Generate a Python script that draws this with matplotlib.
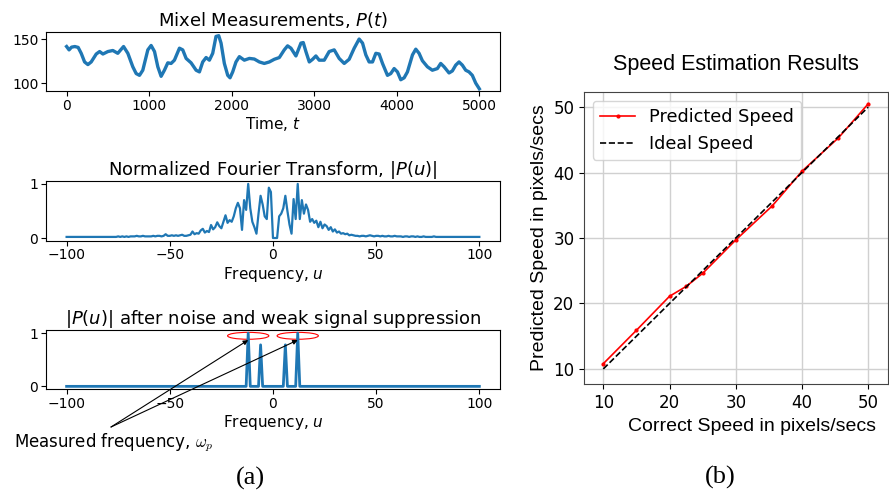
import matplotlib.pyplot as plt
from matplotlib.patches import Ellipse

time_t = [0, 30, 60, 100, 140, 177, 218, 258, 298, 359, 400, 440, 500, 560, 620, 690,
          742, 802, 843, 883, 923, 984, 1024, 1065, 1105, 1145, 1185, 1226, 1266, 1306,
          1367, 1407, 1448, 1508, 1569, 1609, 1649, 1690, 1730, 1770, 1810, 1843, 1871,
          1911, 1952, 1980, 2012, 2052, 2093, 2153, 2214, 2274, 2335, 2395, 2456, 2516,
          2577, 2637, 2677, 2718, 2778, 2839, 2867, 2899, 2940, 2980, 3020, 3060, 3121,
          3181, 3242, 3302, 3363, 3423, 3484, 3544, 3585, 3625, 3665, 3706, 3746, 3786,
          3827, 3887, 3927, 3968, 4008, 4048, 4089, 4129, 4190, 4230, 4270, 4310, 4371,
          4431, 4492, 4532, 4573, 4633, 4673, 4714, 4754, 4794, 4835, 4875, 4915, 4956, 5000]
mixel_p = [141.5, 137.7, 140.8, 141.5, 140.5, 133.8, 124, 121, 124, 133, 135.8, 133, 135.8,
           137, 133.8, 141.5, 133.8, 118.5, 110.8, 108.8, 114.6, 137.7, 142.7, 135.8, 118.5,
           107.7, 114.6, 123, 122.3, 126, 139.6, 137.7, 128, 123, 114.6, 112.7, 124, 129,
           126, 133.8, 153, 153.8, 145.4, 122.3, 108.8, 106, 112.7, 124, 130, 126, 128,
           127.3, 124, 122.3, 124, 127, 129, 137.7, 142.3, 139.6, 130.8, 145.4, 146, 135.8,
           124, 127, 130.8, 126, 126, 135.8, 137.7, 128, 122.3, 127, 139.6, 150, 145.4, 132,
           124, 124, 133.8, 133, 122.3, 108.8, 110.8, 116.5, 112.7, 103.8, 106, 112.7, 132,
           138.5, 133.8, 125.4, 118.5, 114.6, 116.5, 122.3, 118.5, 111.5, 113.8, 120.4, 124,
           120.4, 114.6, 112.7, 108.8, 100, 93.5]

# normalized Fourier transform |P(u)| for u = -100 .. 100
freq_u = list(range(-100, 101))
fourier_left_tail = [0.02, 0.02, 0.02, 0.02, 0.02, 0.02, 0.02, 0.02, 0.02, 0.02,
                     0.02, 0.02, 0.02, 0.02, 0.02, 0.02, 0.02, 0.02, 0.02, 0.02,
                     0.02, 0.02, 0.02, 0.02, 0.02, 0.03, 0.02, 0.03, 0.02, 0.03,
                     0.02, 0.03, 0.03, 0.03, 0.04, 0.03, 0.03, 0.04, 0.03, 0.03,
                     0.03, 0.03, 0.04, 0.03, 0.04, 0.04, 0.03, 0.04, 0.07, 0.04,
                     0.04, 0.05, 0.04, 0.05, 0.04, 0.05, 0.06, 0.04, 0.04, 0.05]
fourier_center = [0.06, 0.12, 0.07, 0.09, 0.08, 0.14, 0.17, 0.10, 0.13, 0.11,
                  0.24, 0.16, 0.20, 0.29, 0.22, 0.18, 0.30, 0.42, 0.28, 0.33,
                  0.30, 0.40, 0.55, 0.65, 0.55, 0.15, 0.70, 0.52, 1.00, 0.55,
                  0.30, 0.20, 0.08, 0.45, 0.78, 0.62, 0.40, 0.35, 0.93, 0.85,
                  0.00, 0.00, 0.00, 0.40, 0.45, 0.55, 0.78, 0.50, 0.25, 0.08,
                  0.72, 0.35, 1.00, 0.35, 0.70, 0.45, 0.62, 0.52, 0.30, 0.35,
                  0.28, 0.32, 0.20, 0.30, 0.18, 0.25, 0.22, 0.15, 0.20, 0.12,
                  0.16, 0.10, 0.12, 0.08, 0.09, 0.07, 0.08, 0.05, 0.06, 0.05, 0.04]
fourier_right_tail = [0.04, 0.03, 0.04, 0.04, 0.03, 0.04, 0.05, 0.04, 0.03, 0.04,
                      0.04, 0.03, 0.04, 0.03, 0.03, 0.04, 0.03, 0.03, 0.04, 0.03,
                      0.03, 0.03, 0.02, 0.03, 0.03, 0.02, 0.03, 0.03, 0.02, 0.03,
                      0.02, 0.02, 0.03, 0.02, 0.02, 0.02, 0.02, 0.03, 0.02, 0.02,
                      0.02, 0.02, 0.02, 0.02, 0.02, 0.02, 0.02, 0.02, 0.02, 0.02,
                      0.02, 0.02, 0.02, 0.02, 0.02, 0.02, 0.02, 0.02, 0.02, 0.02]
fourier_p = fourier_left_tail + fourier_center + fourier_right_tail

# after noise and weak signal suppression: only these survive
peak_u = [-12, -6, 6, 12]
peak_val = [1.0, 0.78, 0.78, 1.0]
measured_u = [-12, 12]

# speed estimation
correct_speed = [10, 15, 20, 22.5, 25, 30, 35.5, 40, 45.5, 50]
predicted_speed = [10.8, 15.9, 21.1, 22.6, 24.6, 29.7, 34.9, 40.2, 45.3, 50.5]
ideal_speed = [10, 20, 30, 40, 50]

blue = '#1f77b4'

plt.rcParams['font.family'] = 'DejaVu Sans'
fig = plt.figure(figsize=(8.89, 4.96), dpi=100)

ax1 = fig.add_axes([0.0517, 0.8165, 0.5107, 0.119])
ax2 = fig.add_axes([0.0517, 0.5147, 0.5107, 0.120])
ax3 = fig.add_axes([0.0517, 0.2157, 0.5107, 0.118])
ax4 = fig.add_axes([0.657, 0.2258, 0.342, 0.5887])

# top: raw measurements
ax1.plot(time_t, mixel_p, color=blue, lw=2.4)
ax1.set_ylim(91, 158)
ax1.set_yticks([100, 150])
ax1.set_xticks([0, 1000, 2000, 3000, 4000, 5000])
ax1.set_title('Mixel Measurements, $P(t)$', fontsize=13, pad=4)
ax1.set_xlabel('Time, $t$', fontsize=11, labelpad=2)

# middle: spectrum
ax2.plot(freq_u, fourier_p, color=blue, lw=1.6)
ax2.set_ylim(-0.05, 1.05)
ax2.set_yticks([0, 1])
ax2.set_xticks([-100, -50, 0, 50, 100])
ax2.set_title('Normalized Fourier Transform, $|P(u)|$', fontsize=13, pad=4)
ax2.set_xlabel('Frequency, $u$', fontsize=11, labelpad=2)

# bottom: suppressed spectrum
suppressed = [0.0] * len(freq_u)
for u, v in zip(peak_u, peak_val):
    suppressed[freq_u.index(u)] = v
ax3.plot(freq_u, suppressed, color=blue, lw=2)
ax3.set_ylim(-0.05, 1.05)
ax3.set_yticks([0, 1])
ax3.set_xticks([-100, -50, 0, 50, 100])
ax3.set_title('$|P(u)|$ after noise and weak signal suppression', fontsize=13, pad=4)
ax3.set_xlabel('Frequency, $u$', fontsize=11, labelpad=2)

for u in measured_u:
    ax3.add_patch(Ellipse((u, 0.95), 20, 0.13, fill=False, edgecolor='red',
                          lw=0.8, clip_on=False))
    ax3.annotate('', xy=(u, 0.87), xycoords='data',
                 xytext=(111, 496 - 427), textcoords='figure pixels',
                 arrowprops=dict(arrowstyle='-|>', color='black', lw=0.8,
                                 mutation_scale=7, shrinkA=0, shrinkB=0))
fig.text(14, 496 - 443, 'Measured frequency, $\\omega_p$', fontsize=12,
         va='center', ha='left', transform=None, math_fontfamily='cm')

for ax in (ax1, ax2, ax3):
    ax.tick_params(labelsize=10, pad=2)

# right: speed results
ax4.plot(correct_speed, predicted_speed, color='red', lw=1.2, marker='.',
         markersize=4, label='Predicted Speed')
ax4.plot(ideal_speed, ideal_speed, color='black', lw=1.2, ls='--', label='Ideal Speed')
ax4.set_xlim(7.1, 53)
ax4.set_ylim(7.7, 52.3)
ax4.set_xticks([10, 20, 30, 40, 50])
ax4.set_yticks([10, 20, 30, 40, 50])
ax4.grid(True, color='#d0d0d0', lw=1)
ax4.tick_params(labelsize=12)
for s in ax4.spines.values():
    s.set_color('#444444')
ax4.set_title('Speed Estimation Results', fontsize=15.5, pad=16,
              family='Liberation Sans')
ax4.set_xlabel('Correct Speed in pixels/secs', fontsize=14, family='Liberation Sans')
ax4.xaxis.set_label_coords(0.553, -0.115)
ax4.set_ylabel('Predicted Speed in pixels/secs', fontsize=14, family='Liberation Sans')
ax4.legend(loc='upper left', fontsize=12.7, framealpha=0.8, borderaxespad=0.5)

# captions
fig.text(250, 496 - 478, '(a)', fontsize=19, family='Liberation Serif',
         ha='center', va='center', transform=None)
fig.text(720, 496 - 477, '(b)', fontsize=19, family='Liberation Serif',
         ha='center', va='center', transform=None)

fig.savefig('out.png', dpi=100)
